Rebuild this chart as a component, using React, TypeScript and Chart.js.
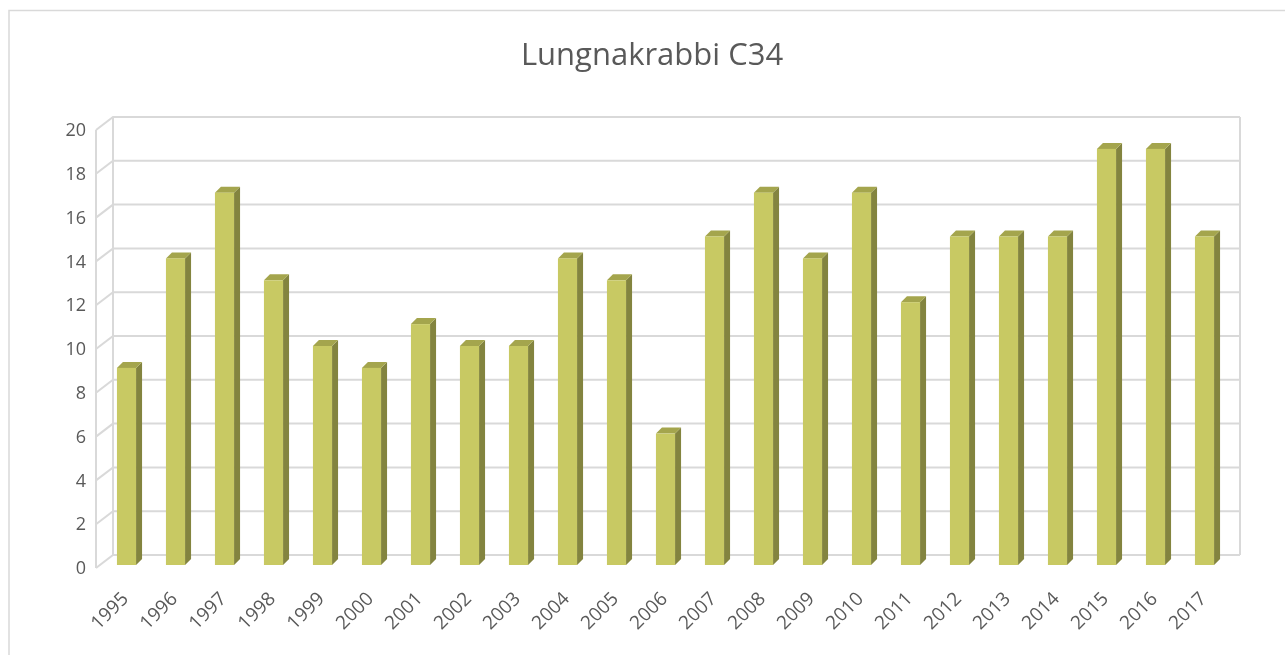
import React, { useEffect, useRef } from "react";
import { Chart, registerables } from "chart.js";

Chart.register(...registerables);

const TITLE = "Lungnakrabbi C34";
const YEARS = ["1995","1996","1997","1998","1999","2000","2001","2002","2003","2004","2005","2006","2007","2008","2009","2010","2011","2012","2013","2014","2015","2016","2017"];
const VALUES = [9,14,17,13,10,9,11,10,10,14,13,6,15,17,14,17,12,15,15,15,19,19,15];
const Y_TICKS = [0,2,4,6,8,10,12,14,16,18,20];

const FONT = '"Open Sans", "Liberation Sans", sans-serif';
const TEXT_COLOR = "#595959";
const GRID_COLOR = "#d9d9d9";
const FRONT = "#c8c963";
const TOP = "#a4a54d";
const SIDE = "#83843f";

const WALL_DX = 17;
const WALL_DY = -13;
const BAR_SHIFT_X = 6;
const BAR_SHIFT_Y = -3;
const BAR_DX = 6;
const BAR_DY = -6;

const chart3d = {
  id: "chart3d",
  beforeDraw(chart: any) {
    const ctx = chart.ctx;
    const { width, height } = chart;
    const area = chart.chartArea;
    const ys = chart.scales.y;
    const xs = chart.scales.x;
    ctx.save();
    ctx.fillStyle = "#ffffff";
    ctx.fillRect(0, 0, width, height);
    // outer frame
    ctx.strokeStyle = GRID_COLOR;
    ctx.lineWidth = 1.5;
    ctx.beginPath();
    ctx.moveTo(9, height + 5);
    ctx.lineTo(9, 10.5);
    ctx.lineTo(width + 5, 10.5);
    ctx.stroke();
    // title
    ctx.fillStyle = TEXT_COLOR;
    ctx.font = `31px ${FONT}`;
    ctx.textAlign = "center";
    ctx.textBaseline = "middle";
    ctx.fillText(TITLE, 652, 56);
    // walls
    const left = area.left;
    const backLeft = left + WALL_DX;
    const backRight = area.right + WALL_DX;
    ctx.strokeStyle = GRID_COLOR;
    ctx.lineWidth = 2;
    ctx.beginPath();
    for (const v of Y_TICKS) {
      const y = ys.getPixelForValue(v);
      ctx.moveTo(left, y);
      ctx.lineTo(backLeft, y + WALL_DY);
      ctx.lineTo(backRight, y + WALL_DY);
    }
    const yTop = ys.getPixelForValue(Y_TICKS[Y_TICKS.length - 1]);
    const yBot = ys.getPixelForValue(0);
    ctx.moveTo(left, yTop);
    ctx.lineTo(left, yBot);
    ctx.moveTo(backLeft, yTop + WALL_DY);
    ctx.lineTo(backLeft, yBot + WALL_DY);
    ctx.moveTo(backRight, yTop + WALL_DY);
    ctx.lineTo(backRight, yBot + WALL_DY);
    ctx.stroke();
    // y labels
    ctx.fillStyle = TEXT_COLOR;
    ctx.font = `18px ${FONT}`;
    ctx.textAlign = "right";
    ctx.textBaseline = "middle";
    for (const v of Y_TICKS) {
      ctx.fillText(String(v), left - 10, ys.getPixelForValue(v) + 1);
    }
    // x labels
    ctx.font = `19px ${FONT}`;
    ctx.textAlign = "right";
    ctx.textBaseline = "middle";
    YEARS.forEach((lab, i) => {
      const x = xs.getPixelForValue(i);
      ctx.save();
      ctx.translate(x + 5, yBot + 28);
      ctx.rotate(-Math.PI / 4);
      ctx.fillText(lab, 0, 0);
      ctx.restore();
    });
    ctx.restore();
  },
  afterDatasetsDraw(chart: any) {
    const ctx = chart.ctx;
    const meta = chart.getDatasetMeta(0);
    ctx.save();
    meta.data.forEach((el: any) => {
      const p = el.getProps(["x", "y", "base", "width"], true);
      const x0 = p.x - p.width / 2 + BAR_SHIFT_X;
      const x1 = p.x + p.width / 2 + BAR_SHIFT_X;
      const yt = p.y + BAR_SHIFT_Y;
      const yb = p.base + BAR_SHIFT_Y;
      // side
      ctx.fillStyle = SIDE;
      ctx.beginPath();
      ctx.moveTo(x1, yt);
      ctx.lineTo(x1 + BAR_DX, yt + BAR_DY);
      ctx.lineTo(x1 + BAR_DX, yb + BAR_DY);
      ctx.lineTo(x1, yb);
      ctx.closePath();
      ctx.fill();
      // top
      ctx.fillStyle = TOP;
      ctx.beginPath();
      ctx.moveTo(x0, yt);
      ctx.lineTo(x0 + BAR_DX, yt + BAR_DY);
      ctx.lineTo(x1 + BAR_DX, yt + BAR_DY);
      ctx.lineTo(x1, yt);
      ctx.closePath();
      ctx.fill();
      // front
      ctx.fillStyle = FRONT;
      ctx.fillRect(x0, yt, x1 - x0, yb - yt);
    });
    ctx.restore();
  },
};

export default function App() {
  const ref = useRef<HTMLCanvasElement | null>(null);
  useEffect(() => {
    if (!ref.current) return;
    const chart = new Chart(ref.current, {
      type: "bar",
      data: {
        labels: YEARS,
        datasets: [
          {
            data: VALUES,
            backgroundColor: "rgba(0,0,0,0)",
            borderWidth: 0,
            barPercentage: 0.39,
            categoryPercentage: 1,
          },
        ],
      },
      options: {
        responsive: false,
        animation: false,
        devicePixelRatio: 1,
        layout: { padding: { left: 96, right: 62, top: 130, bottom: 87 } },
        scales: {
          x: { display: false, offset: true },
          y: { display: false, min: 0, max: 20 },
        },
        plugins: { legend: { display: false }, tooltip: { enabled: false }, title: { display: false } },
      },
      plugins: [chart3d],
    });
    return () => chart.destroy();
  }, []);
  return (
    <div style={{ position: "fixed", left: 0, top: 0, width: 1285, height: 655, background: "#fff" }}>
      <canvas ref={ref} width={1285} height={655} style={{ display: "block", width: 1285, height: 655 }} />
    </div>
  );
}
